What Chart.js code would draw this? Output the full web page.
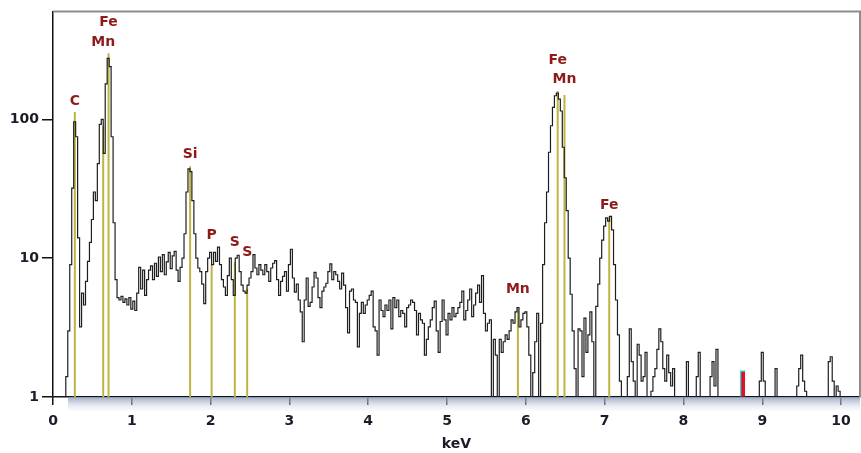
<!DOCTYPE html>
<html>
<head>
<meta charset="utf-8">
<script src="https://cdn.jsdelivr.net/npm/chart.js@4.4.1/dist/chart.umd.min.js"></script>
<style>
  html, body { margin: 0; padding: 0; background: #fff; }
  #spec { display: block; }
</style>
</head>
<body>
<canvas id="spec" width="861" height="453"></canvas>
<script>
// EDS spectrum, counts per 25 eV channel starting at 0 keV
const CHANNEL_KEV = 0.025;
const counts = [
    1,1,1,1,1,1,1,1.4,3,9,
    32,96,75,14,3.2,5.6,4.6,6.8,9.5,13,
    19,30,26,48,92,100,57,180,275,240,
    75,18,7,5.2,5,5.3,4.8,5.1,4.6,5.2,
    4.3,4.9,4.2,5.6,8.6,6,8.2,5.4,7,8.2,
    8.8,7,9.2,7.4,10.2,8,10.6,7.6,9.4,11,
    8.4,10.4,11.2,8.2,6.8,8.6,10,15,30,44,
    42,26,15,10,8.5,8,6.5,4.7,8,10,
    11,9,11,9.5,12,9,7,6.2,5.4,7.5,
    10,7,5.4,10,10.5,8,6.4,5.8,5.6,6.4,
    7.2,8,10.6,8.5,7.6,9,8.2,7.6,9,8,
    6.8,8.5,9.2,9.6,7,5.4,6.8,7.4,8,5.8,
    9,11.6,7.2,5.7,6.5,5,4.1,2.5,5,7.2,
    4.5,4.8,6.2,7.9,7.2,5.2,4.4,5.8,6.2,6.6,
    8,9.1,7,8,7.6,6.8,6,7.8,6.4,4.4,
    2.9,5.8,6,5,4.8,2.3,4,4.8,4,4.6,
    5,5.4,5.8,3.2,3,2,5,4.2,3.8,4.6,
    4.2,5,3.1,5.2,4.4,5,3.8,4.2,4,3.2,
    4.4,4.6,5,4.8,4.2,2.8,4,3.6,3.4,2,
    2.6,3.2,3.6,4.4,4.9,3,2.1,3.5,5,3.6,
    2.8,4,3.6,4.4,3.8,4,4.4,4.8,5.8,3.6,
    4.2,5,6,3.8,4.6,5.6,6.4,4.8,7.5,4,
    3,3.4,3.6,1,2.6,2,1,2.6,2.1,2.5,
    2.8,2.6,3,3.6,3.4,4.1,4.4,3.2,3.6,4,
    4.1,3.2,2,1,1.5,2.5,4,1,3.4,9,
    18,30,58,90,122,148,155,140,115,63,
    38,22,10,5.5,3,1.6,1,3.1,3,1.4,
    3.7,2.1,2.8,4.1,2.5,1,4.5,6.5,10,13.5,
    17,19.5,18.5,20,16,9,5,2.8,1.3,1,
    1,1,1.4,3.1,1.8,1.3,1,2.4,2,1.3,
    1.4,2.1,1,1,1.1,1.4,1.6,2.2,3.1,2.5,
    1.6,1.3,2,1.5,1.2,1.6,1,1,1,1,
    1,1,1.8,1,1,1,1,1.4,2.1,1,
    1,1,1,1,1.4,1.8,1.2,2.2,1,1,
    1,1,1,1,1,1,1,1,1,1,
    1,1,1,1,1,1,1,1,1,1.3,
    2.1,1.3,1,1,1,1,1,1.6,1,1,
    1,1,1,1,1,1,1,1,1.2,1.6,
    2,1.3,1.1,1,1,1,1,1,1,1,
    1,1,1,1,1.8,1.95,1.3,1,1.2,1.1,
    1
];

// element line markers
const lineNames = ['C', 'Mn', 'Fe', 'Si', 'P', 'S', 'S', 'Mn', 'Fe', 'Mn', 'Fe'];
const lineKeV   = [0.277, 0.637, 0.705, 1.740, 2.013, 2.307, 2.464, 5.899, 6.404, 6.490, 7.058];
const lineTops  = [113, 90, 300, 46, 9.0, 9.4, 6.0, 4.3, 160, 150, 20];
const labelAt   = [135, 360, 500, 55.7, 14.6, 13.0, 11.0, 6.0, 268, 194, 24.2];

// cursor marker
const cursorKeV = [8.75];
const cursorVal = [1.55];

const yTicks = [1, 10, 100];
const xTicks = [0, 1, 2, 3, 4, 5, 6, 7, 8, 9, 10];

const FONT = 'Verdana, "DejaVu Sans", sans-serif';

const specPoints = counts.map((c, i) => ({ x: i * CHANNEL_KEV, y: c }));
const markerPoints = [];
lineKeV.forEach((k, i) => {
    markerPoints.push({ x: k, y: 1 }, { x: k, y: lineTops[i] }, { x: k, y: null });
});
const cursorPoints = cursorKeV.map((k, i) => ({ x: k, y: cursorVal[i] }));

const decor = {
    id: 'decor',
    beforeDatasetsDraw(chart) {
        const { ctx, chartArea: a } = chart;
        // shaded band under the energy axis
        const g = ctx.createLinearGradient(0, a.bottom, 0, a.bottom + 14);
        g.addColorStop(0, 'rgba(140,155,185,0.85)');
        g.addColorStop(1, 'rgba(235,238,245,0.2)');
        ctx.save();
        ctx.fillStyle = g;
        const x0 = chart.scales.x.getPixelForValue(0.19);
        ctx.fillRect(x0, a.bottom, a.right - x0, 14);
        // top/right frame
        ctx.strokeStyle = '#8c8c8c';
        ctx.lineWidth = 2;
        ctx.beginPath();
        ctx.moveTo(a.left, a.top);
        ctx.lineTo(a.right, a.top);
        ctx.lineTo(a.right, a.bottom);
        ctx.stroke();
        ctx.restore();
    },
    afterDatasetsDraw(chart) {
        const { ctx } = chart;
        const xs = chart.scales.x, ys = chart.scales.y;
        ctx.save();
        ctx.font = 'bold 14px ' + FONT;
        ctx.fillStyle = '#8e1a1a';
        ctx.textAlign = 'center';
        ctx.textBaseline = 'middle';
        lineNames.forEach((n, i) => {
            ctx.fillText(n, xs.getPixelForValue(lineKeV[i]), ys.getPixelForValue(labelAt[i]));
        });
        ctx.restore();
    }
};

new Chart(document.getElementById('spec'), {
    type: 'line',
    data: {
        datasets: [
            { data: specPoints, borderColor: '#1e1e1e', borderWidth: 1.2, pointRadius: 0, stepped: 'middle', order: 0 },
            { data: markerPoints, borderColor: '#bdb443', borderWidth: 2, pointRadius: 0, spanGaps: false, order: 2 },
            { type: 'bar', data: cursorPoints, backgroundColor: '#e0102a', borderColor: '#35d8d8', borderWidth: { left: 1.5, top: 1.5, right: 0, bottom: 0 }, borderSkipped: 'bottom', barThickness: 5, order: 1 }
        ]
    },
    options: {
        responsive: false,
        animation: false,
        devicePixelRatio: 1,
        layout: { padding: { top: 6, right: 1, left: 0, bottom: 0 } },
        plugins: { legend: { display: false }, tooltip: { enabled: false } },
        scales: {
            x: {
                type: 'linear', min: 0, max: 10.24, offset: false,
                afterFit: (s) => { s.height = 56; },
                afterBuildTicks: (s) => { s.ticks = xTicks.map(v => ({ value: v })); },
                ticks: { autoSkip: false, maxRotation: 0, padding: 8, color: '#1c1c28', font: { family: FONT, size: 14, weight: 'bold' } },
                grid: { offset: false, drawOnChartArea: false, drawTicks: true, tickLength: 8, color: '#111', lineWidth: 1.5 },
                border: { display: true, color: '#111', width: 1.5 },
                title: { display: true, text: 'keV', color: '#1c1c28', padding: { top: 0, bottom: 0 }, font: { family: FONT, size: 14, weight: 'bold' } }
            },
            y: {
                type: 'logarithmic', min: 1, max: 600,
                afterFit: (s) => { s.width = 53; },
                afterBuildTicks: (s) => { s.ticks = yTicks.map(v => ({ value: v })); },
                ticks: { padding: 3, color: '#1c1c28', font: { family: FONT, size: 14, weight: 'bold' }, callback: (v) => String(v) },
                grid: { drawOnChartArea: false, drawTicks: true, tickLength: 11, color: '#111', lineWidth: 1.5 },
                border: { display: true, color: '#111', width: 1.5 }
            }
        }
    },
    plugins: [decor]
});
</script>
</body>
</html>
